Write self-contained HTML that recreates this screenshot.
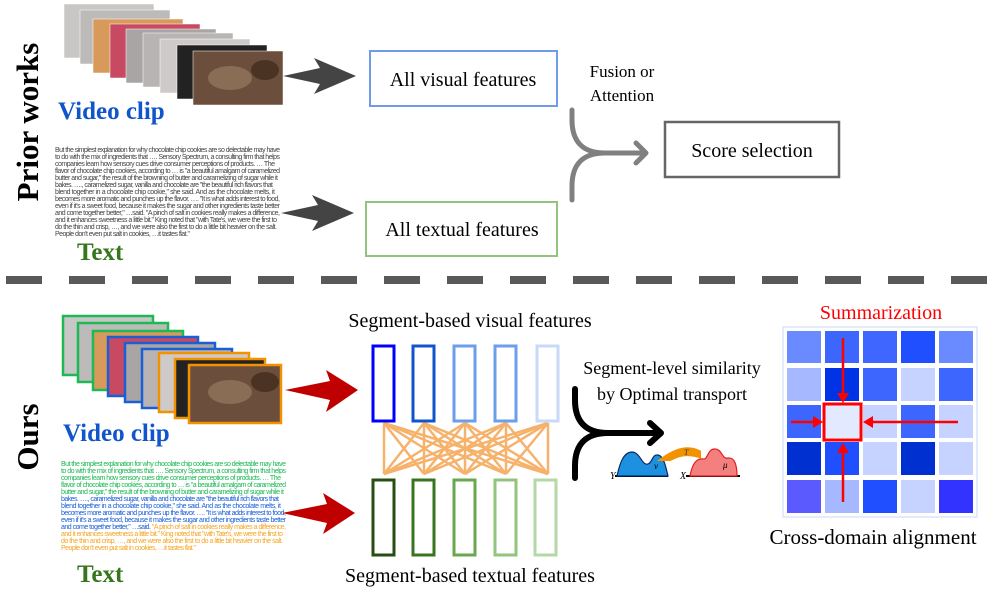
<!DOCTYPE html>
<html><head><meta charset="utf-8"><style>
html,body{margin:0;padding:0;background:#fff;}
svg{display:block;}
text{font-family:"Liberation Serif",serif;}
.p{font-family:"Liberation Sans",sans-serif;font-size:7px;}
</style></head><body>
<svg width="996" height="592" viewBox="0 0 996 592" xmlns="http://www.w3.org/2000/svg">
<!-- side labels -->
<text transform="translate(38,122) rotate(-90)" text-anchor="middle" font-size="31" font-weight="bold">Prior works</text>
<text transform="translate(38,437) rotate(-90)" text-anchor="middle" font-size="31" font-weight="bold">Ours</text>

<!-- top video stack -->
<g stroke="#fff" stroke-width="0.5">
<rect x="64" y="4" width="90" height="54" fill="#c9c6c6"/>
<rect x="80" y="10" width="90" height="54" fill="#bdbaba"/>
<rect x="93" y="19" width="90" height="54" fill="#d89a5a"/>
<rect x="110" y="24" width="90" height="54" fill="#c84a62"/>
<rect x="126" y="29" width="90" height="54" fill="#aaa5a5"/>
<rect x="143" y="33" width="90" height="54" fill="#b9b4b4"/>
<rect x="160" y="39" width="90" height="54" fill="#cfcaca"/>
<rect x="177" y="45" width="90" height="54" fill="#222"/>
<rect x="193" y="51" width="90" height="54" fill="#6b4f3c"/>
</g>
<ellipse cx="230" cy="78" rx="22" ry="12" fill="#8a6d55"/>
<ellipse cx="265" cy="70" rx="14" ry="10" fill="#4a3323"/>
<text x="58" y="119" font-size="25" font-weight="bold" fill="#1155cc">Video clip</text>

<g class="p" fill="#444">
<text class="p" x="55" y="152" textLength="225">But the simplest explanation for why chocolate chip cookies are so delectable may have</text>
<text class="p" x="55" y="159" textLength="225">to do with the mix of ingredients that  …. Sensory Spectrum, a consulting firm that helps</text>
<text class="p" x="55" y="166" textLength="220">companies learn how sensory cues drive consumer perceptions of products. … The</text>
<text class="p" x="55" y="173" textLength="225">flavor of chocolate chip cookies, according to … is "a beautiful amalgam of caramelized</text>
<text class="p" x="55" y="180" textLength="223">butter and sugar," the result of the browning of butter and caramelizing of sugar while it</text>
<text class="p" x="55" y="187" textLength="218">bakes. …., caramelized sugar, vanilla and chocolate are "the beautiful rich flavors that</text>
<text class="p" x="55" y="194" textLength="220">blend together in a chocolate chip cookie," she said. And as the chocolate melts, it</text>
<text class="p" x="55" y="201" textLength="225">becomes more aromatic and punches up the flavor. …. "It is what adds interest to food,</text>
<text class="p" x="55" y="208" textLength="225">even if it's a sweet food, because it makes the sugar and other ingredients taste better</text>
<text class="p" x="55" y="215" textLength="225">and come together better," …said. "A pinch of salt in cookies really makes a difference,</text>
<text class="p" x="55" y="222" textLength="222">and it enhances sweetness a little bit." King noted that "with Tate's, we were the first to</text>
<text class="p" x="55" y="229" textLength="222">do the thin and crisp, …, and we were also the first to do a little bit heavier on the salt.</text>
<text class="p" x="55" y="236" textLength="135">People don't even put salt in cookies, …it tastes flat."</text>
</g>
<text x="77" y="260" font-size="25" font-weight="bold" fill="#38761d">Text</text>

<!-- gray arrows -->
<polygon points="283,76 320,68 314,58 356,76 314,94 320,84" fill="#444"/>
<polygon points="281,213 318,205 312,195 354,213 312,231 318,221" fill="#444"/>

<rect x="370" y="51" width="187" height="55" fill="none" stroke="#6f9be8" stroke-width="2"/>
<text x="463" y="86" font-size="20" text-anchor="middle">All visual features</text>
<rect x="366" y="202" width="191" height="54" fill="none" stroke="#93c47d" stroke-width="2"/>
<text x="462" y="236" font-size="20" text-anchor="middle">All textual features</text>
<text x="622" y="77" font-size="17" text-anchor="middle">Fusion or</text>
<text x="622" y="101" font-size="17" text-anchor="middle">Attention</text>
<g fill="none" stroke="#808080" stroke-width="5" stroke-linecap="round" stroke-linejoin="round">
<path d="M572,110 V120 Q572,153 605,153 H645"/>
<path d="M572,200 V186 Q572,153 605,153"/>
<path d="M636,143 L646,153 L636,163"/>
</g>
<rect x="665" y="122" width="174" height="55" fill="none" stroke="#666" stroke-width="2.5"/>
<text x="752" y="157" font-size="20" text-anchor="middle">Score selection</text>

<!-- dashed line -->
<line x1="6" y1="280" x2="996" y2="280" stroke="#595959" stroke-width="8" stroke-dasharray="36 27"/>

<!-- bottom video stack -->
<g stroke-width="2.5">
<rect x="63" y="316" width="90" height="59" fill="#c9c6c6" stroke="#1db954"/>
<rect x="78" y="323" width="90" height="59" fill="#bdbaba" stroke="#1db954"/>
<rect x="93" y="331" width="90" height="59" fill="#d89a5a" stroke="#1db954"/>
<rect x="108" y="337" width="90" height="59" fill="#c84a62" stroke="#1a5fd6"/>
<rect x="125" y="343" width="90" height="59" fill="#aaa5a5" stroke="#1a5fd6"/>
<rect x="142" y="349" width="90" height="59" fill="#b9b4b4" stroke="#1a5fd6"/>
<rect x="159" y="353" width="90" height="59" fill="#cfcaca" stroke="#f39200"/>
<rect x="175" y="359" width="90" height="59" fill="#222" stroke="#f39200"/>
<rect x="189" y="365" width="92" height="58" fill="#6b4f3c" stroke="#f39200"/>
</g>
<ellipse cx="230" cy="392" rx="22" ry="12" fill="#8a6d55"/>
<ellipse cx="265" cy="382" rx="14" ry="10" fill="#4a3323"/>
<text x="63" y="441" font-size="25" font-weight="bold" fill="#1155cc">Video clip</text>

<g>
<text class="p" fill="#1db954" x="61" y="466" textLength="225">But the simplest explanation for why chocolate chip cookies are so delectable may have</text>
<text class="p" fill="#1db954" x="61" y="473" textLength="225">to do with the mix of ingredients that  …. Sensory Spectrum, a consulting firm that helps</text>
<text class="p" fill="#1db954" x="61" y="480" textLength="220">companies learn how sensory cues drive consumer perceptions of products. … The</text>
<text class="p" fill="#1db954" x="61" y="487" textLength="225">flavor of chocolate chip cookies, according to … is "a beautiful amalgam of caramelized</text>
<text class="p" fill="#1db954" x="61" y="494" textLength="223">butter and sugar," the result of the browning of butter and caramelizing of sugar while it</text>
<text class="p" fill="#1a5fd6" x="61" y="501" textLength="218">bakes. …., caramelized sugar, vanilla and chocolate are "the beautiful rich flavors that</text>
<text class="p" fill="#1a5fd6" x="61" y="508" textLength="220">blend together in a chocolate chip cookie," she said. And as the chocolate melts, it</text>
<text class="p" fill="#1a5fd6" x="61" y="515" textLength="225">becomes more aromatic and punches up the flavor. …. "It is what adds interest to food,</text>
<text class="p" fill="#1a5fd6" x="61" y="522" textLength="225">even if it's a sweet food, because it makes the sugar and other ingredients taste better</text>
<text class="p" x="61" y="529" textLength="225"><tspan fill="#1a5fd6">and come together better," …said. </tspan><tspan fill="#f5a623">"A pinch of salt in cookies really makes a difference,</tspan></text>
<text class="p" fill="#f5a623" x="61" y="536" textLength="222">and it enhances sweetness a little bit." King noted that "with Tate's, we were the first to</text>
<text class="p" fill="#f5a623" x="61" y="543" textLength="222">do the thin and crisp, …, and we were also the first to do a little bit heavier on the salt.</text>
<text class="p" fill="#f5a623" x="61" y="550" textLength="135">People don't even put salt in cookies, …it tastes flat."</text>
</g>
<text x="77" y="582" font-size="25" font-weight="bold" fill="#38761d">Text</text>

<!-- red arrows -->
<polygon points="285,390 330,381 326,370 358,390 326,412 330,400" fill="#c00000"/>
<polygon points="282,513 327,504 323,493 355,513 323,534 327,523" fill="#c00000"/>

<text x="470" y="327" font-size="20" text-anchor="middle">Segment-based visual features</text>
<text x="470" y="582" font-size="20" text-anchor="middle">Segment-based textual features</text>

<!-- lines -->
<g stroke="#f6b26b" stroke-width="2.5">
<line x1="384" y1="423" x2="384" y2="474"/><line x1="384" y1="423" x2="424" y2="474"/><line x1="384" y1="423" x2="465" y2="474"/><line x1="384" y1="423" x2="506" y2="474"/><line x1="384" y1="423" x2="548" y2="474"/>
<line x1="424" y1="423" x2="384" y2="474"/><line x1="424" y1="423" x2="424" y2="474"/><line x1="424" y1="423" x2="465" y2="474"/><line x1="424" y1="423" x2="506" y2="474"/><line x1="424" y1="423" x2="548" y2="474"/>
<line x1="465" y1="423" x2="384" y2="474"/><line x1="465" y1="423" x2="424" y2="474"/><line x1="465" y1="423" x2="465" y2="474"/><line x1="465" y1="423" x2="506" y2="474"/><line x1="465" y1="423" x2="548" y2="474"/>
<line x1="506" y1="423" x2="384" y2="474"/><line x1="506" y1="423" x2="424" y2="474"/><line x1="506" y1="423" x2="465" y2="474"/><line x1="506" y1="423" x2="506" y2="474"/><line x1="506" y1="423" x2="548" y2="474"/>
<line x1="548" y1="423" x2="384" y2="474"/><line x1="548" y1="423" x2="424" y2="474"/><line x1="548" y1="423" x2="465" y2="474"/><line x1="548" y1="423" x2="506" y2="474"/><line x1="548" y1="423" x2="548" y2="474"/>
</g>
<g fill="#fff" stroke-width="3">
<rect x="373" y="346" width="21" height="75" stroke="#0000ff"/>
<rect x="413" y="346" width="21" height="75" stroke="#1155cc"/>
<rect x="454" y="346" width="21" height="75" stroke="#6d9eeb"/>
<rect x="495" y="346" width="21" height="75" stroke="#6d9eeb"/>
<rect x="537" y="346" width="21" height="75" stroke="#c9daf8"/>
<rect x="373" y="480" width="21" height="75" stroke="#274e13"/>
<rect x="413" y="480" width="21" height="75" stroke="#38761d"/>
<rect x="454" y="480" width="21" height="75" stroke="#6aa84f"/>
<rect x="495" y="480" width="21" height="75" stroke="#93c47d"/>
<rect x="535" y="480" width="21" height="75" stroke="#b6d7a8"/>
</g>

<text x="672" y="374" font-size="18" text-anchor="middle">Segment-level similarity</text>
<text x="672" y="400" font-size="18" text-anchor="middle">by Optimal transport</text>
<g fill="none" stroke="#000" stroke-width="6" stroke-linecap="round" stroke-linejoin="round">
<path d="M575,389 V400 Q575,433 608,433 H660"/>
<path d="M575,478 V466 Q575,433 608,433"/>
<path d="M650,423 L661,433 L650,443"/>
</g>
<!-- distributions -->
<line x1="615" y1="476" x2="668" y2="476" stroke="#000" stroke-width="2"/>
<path d="M617,476 C620,462 624,452 632,452 C640,452 642,466 648,464 C653,462 652,454 658,455 C664,456 666,468 668,476 Z" fill="#1e90e0" stroke="#0a2a6a" stroke-width="1.2"/>
<line x1="686" y1="476" x2="740" y2="476" stroke="#000" stroke-width="2"/>
<path d="M690,476 C692,465 696,458 703,459 C708,460 707,450 714,449 C722,448 722,460 728,458 C735,457 737,466 737,476 Z" fill="#f47f7f" stroke="#e02020" stroke-width="1.2"/>
<path d="M699,452 Q684,444 663,459 L670,459 Q684,451 699,456 Z" fill="#f39200" stroke="#f39200" stroke-width="4"/>
<text x="610" y="479" font-size="10" font-style="italic">Y</text>
<text x="680" y="479" font-size="10" font-style="italic">X</text>
<text x="654" y="469" font-size="9" font-style="italic">ν</text>
<text x="723" y="468" font-size="9" font-style="italic">μ</text>
<text x="684" y="455" font-size="8" font-style="italic" fill="#333">T</text>

<!-- matrix -->
<text x="881" y="319" font-size="20" text-anchor="middle" fill="#ff0000">Summarization</text>
<rect x="783" y="327" width="194" height="190" fill="#fff" stroke="#c9daf8" stroke-width="1"/>
<g>
<rect x="787" y="331" width="34" height="32" fill="#6a8aff"/><rect x="825" y="331" width="34" height="32" fill="#3d66ff"/><rect x="863" y="331" width="34" height="32" fill="#3f66ff"/><rect x="901" y="331" width="34" height="32" fill="#1f4fff"/><rect x="939" y="331" width="34" height="32" fill="#6a8aff"/>
<rect x="787" y="368" width="34" height="33" fill="#a6b8ff"/><rect x="825" y="368" width="34" height="33" fill="#0033e6"/><rect x="863" y="368" width="34" height="33" fill="#3d66ff"/><rect x="901" y="368" width="34" height="33" fill="#c6d2ff"/><rect x="939" y="368" width="34" height="33" fill="#3d66ff"/>
<rect x="787" y="405" width="34" height="33" fill="#3d66ff"/><rect x="825" y="405" width="34" height="33" fill="#e3e9ff"/><rect x="863" y="405" width="34" height="33" fill="#c6d2ff"/><rect x="901" y="405" width="34" height="33" fill="#3d66ff"/><rect x="939" y="405" width="34" height="33" fill="#c6d2ff"/>
<rect x="787" y="442" width="34" height="33" fill="#0030d0"/><rect x="825" y="442" width="34" height="33" fill="#1f4fff"/><rect x="863" y="442" width="34" height="33" fill="#c6d2ff"/><rect x="901" y="442" width="34" height="33" fill="#0030d0"/><rect x="939" y="442" width="34" height="33" fill="#c6d2ff"/>
<rect x="787" y="480" width="34" height="33" fill="#5a5aff"/><rect x="825" y="480" width="34" height="33" fill="#a6b8ff"/><rect x="863" y="480" width="34" height="33" fill="#1f4fff"/><rect x="901" y="480" width="34" height="33" fill="#c6d2ff"/><rect x="939" y="480" width="34" height="33" fill="#3333ff"/>
</g>
<rect x="824" y="404" width="37" height="36" fill="none" stroke="#ff0000" stroke-width="3"/>
<g stroke="#ff0000" stroke-width="2.5" fill="#ff0000">
<line x1="843" y1="338" x2="843" y2="396"/><polygon points="837,393 849,393 843,403" stroke="none"/>
<line x1="843" y1="502" x2="843" y2="450"/><polygon points="837,453 849,453 843,443" stroke="none"/>
<line x1="791" y1="422" x2="815" y2="422"/><polygon points="813,416 813,428 823,422" stroke="none"/>
<line x1="958" y1="422" x2="871" y2="422"/><polygon points="873,416 873,428 863,422" stroke="none"/>
</g>
<text x="873" y="544" font-size="21" text-anchor="middle">Cross-domain alignment</text>
</svg>
</body></html>
